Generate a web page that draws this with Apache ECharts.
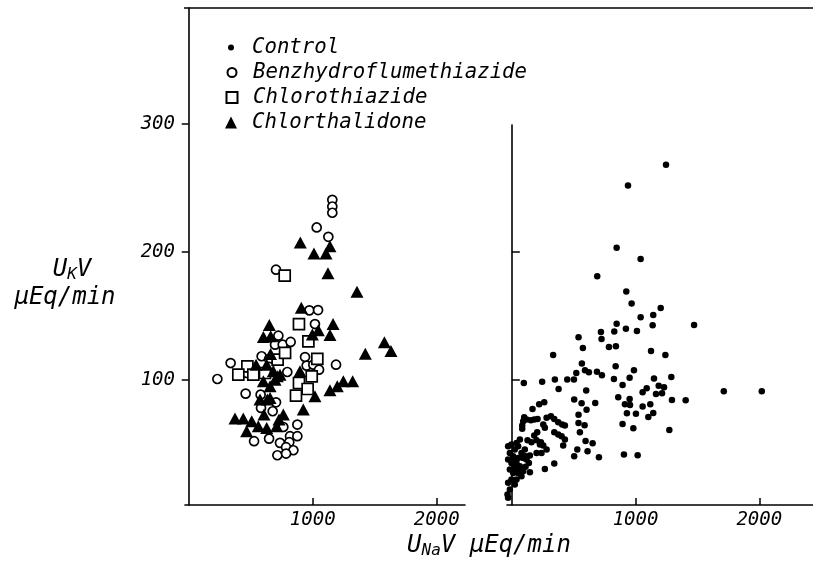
<!DOCTYPE html>
<html>
<head>
<meta charset="utf-8">
<script src="https://cdn.jsdelivr.net/npm/echarts@6/dist/echarts.min.js"></script>
<style>html,body{margin:0;padding:0;background:#fff}#c{width:813px;height:565px}</style>
</head>
<body>
<div id="c"></div>
<script>
// ---- data (UNaV, UKV) in µEq/min ----
const seriesNames = ['Control', 'Benzhydroflumethiazide', 'Chlorothiazide', 'Chlorthalidone'];
const xTicks = [1000, 2000];
const yTicks = [100, 200, 300];

const benzhydroflumethiazide = [[1158,240.6],[1158,235.4],[1158,230.5],[1032,219],[1126,211.7],[704,186],[973,154.2],[1043,154.4],[1018,143.5],
[723,134.4],[696,127.4],[758,127.4],[822,129.5],[588,118.3],[648,116.2],[338,113],[467,105.2],[231,100.5],[795,106],[459,89.1],[580,88.3],[704,82.3],[583,77.9],[677,75.3],[763,63],[876,64.9],[527,51.9],[648,53.9],[736,50.6],[817,55.8],[876,55.8],[811,51.1],[785,47.2],[844,44.8],[715,40.9],[785,42.2],[938,117.7],[951,111],[1005,111.7],[1051,107.8],[1188,111.7],[648,110]];

const chlorothiazide = [[774,181.3],[889,143.5],[965,130],[717,115.7],[777,120.9],[473,110.4],[400,103.9],[521,103.9],[615,105.2],[1037,116.2],[992,102.6],[889,97.4],[959,92.7],[865,87.5]];

const chlorthalidone = [[900,207.3],[1010,198.7],[1107,198.7],[1139,204.4],[1123,183.3],[1357,168.8],[908,156.2],[650,142.7],[1164,143.5],
[602,133.4],[661,133.9],[997,135.4],[1045,138.6],[1139,134.9],[1578,129.2],[1631,122.4],[1424,120.3],[543,111.7],[629,111.7],[682,106.5],[736,103.9],[897,106.5],[602,98.7],[656,94.8],[575,84.4],[656,85.7],[607,72.7],[763,72.7],[1018,87],[924,76.6],[1139,91.7],[1198,94.8],[1247,98.7],[1322,98.7],[373,69.6],[440,69.6],[508,67.5],[467,59.7],[561,63.6],[629,62.3],[709,63.6],[728,68.8],[696,100],[714,102.6],[634,84.4],[660,120]];

const control = [[1246,268],[939,251.8],[847,203.1],[1041,194.3],[690,180.7],[925,168.8],[968,159.4],[1203,156],[1143,150.5],[1041,148.7],
[1138,142.4],[1473,142.7],[847,143.7],[922,139.8],[1011,138],[828,137.7],[720,137.2],[539,133.1],[725,131.7],[574,124.7],[785,125.5],[841,126],[1125,122.4],[1241,119.3],[334,119.3],[566,112.5],[839,110.4],[987,107.3],[521,105.2],[591,107.3],[623,105.7],[688,106.2],[728,103.4],[952,101.5],[825,100.5],[1149,100.8],[1289,102.1],[97,97.4],[245,98.4],[348,100],[448,100],[502,100],[378,92.7],[601,91.4],[895,95.8],[1090,93.2],[1187,95.3],[1057,90.1],[1165,88.8],[1214,89.3],[1230,94],[1713,90.9],[2020,90.9],[504,84.4],[564,81.5],[674,81.8],[860,86.2],[952,84.9],[914,80.7],[955,80.2],[1057,78.9],[1119,80.7],[1294,84.1],[1405,83.9],[604,76.5],[539,72.6],[930,73.7],[1003,73.4],[1103,70.8],[1143,74],[539,66.1],[588,64.3],[895,65.3],[982,62],[1273,60.7],[550,58.8],[596,52.1],[653,50.2],[529,45.3],[612,44],[504,40.1],[704,39.3],[906,41.4],[1017,40.9],
[167,77],[221,80.7],[262,82.3],[100,70.6],[92,67.5],[84,64.1],[84,61.5],[119,68.8],[154,68.2],[181,68.8],[208,69.3],
[281,70.1],[316,71.4],[343,69.3],[375,66.7],[407,64.9],[429,64.1],[254,64.9],[267,62.3],[343,58.9],[375,57.1],[402,55.8],[429,53.1],[415,48.5],[205,58.9],[181,56.3],[200,52.6],[235,51.1],[254,48.5],[227,49.2],[281,45.3],[240,42.7],[200,42.7],[159,51.1],[127,52.6],[267,30.2],[343,34.4],[146,40.6],[119,37.5],[138,34.9],[146,27.6],[111,31.8],
[-30,47.9],[-3,49.2],[38,50.5],[65,53.1],[51,47.9],[24,45.3],[-16,42.7],[11,40.1],[51,38.8],[78,42.7],[92,38.8],[-30,37.5],[-3,34.9],[38,34.9],[65,32.3],[24,31],[-16,29.7],[11,27.1],[51,27.1],[78,24.5],[38,21.9],[-3,21.9],[-30,19.3],[24,18],[-16,14.1],[-35,10.2],[-30,7.6],[105,45.3],[111,40.1],[19,37.5],[51,29.7],[92,28.4]];

// ---- chart ----
const FONT = '"DejaVu Sans Mono", monospace';
const axisLine = {show: true, lineStyle: {color: '#000', width: 1.6}};
const labelStyle = {color: '#000', fontFamily: FONT, fontStyle: 'italic', fontSize: 19, formatter: v => String(v)};

function legendFor(name, size, rowCenter) {
  const left = 231 - size / 2;
  const textPad = 252 - (left + size + 5);
  return {
    data: [name], left: left, top: rowCenter - 10, padding: 0,
    itemWidth: size, itemHeight: size, selectedMode: false,
    textStyle: {color: '#000', fontFamily: FONT, fontStyle: 'italic', fontSize: 20.7, lineHeight: 20,
                padding: [0, 0, 0, textPad]}
  };
}

const chart = echarts.init(document.getElementById('c'), null, {renderer: 'canvas'});
chart.setOption({
  backgroundColor: '#fff',
  animation: false,
  grid: [
    {left: 185, top: 8, width: 280, height: 497},
    {left: 507, top: 125, width: 306, height: 380}
  ],
  xAxis: [
    {gridIndex: 0, type: 'value', min: -30, max: 2228, axisLine,
     splitLine: {show: false},
     axisTick: {show: true, inside: true, length: 7, customValues: xTicks, lineStyle: {color: '#000', width: 1.5}},
     axisLabel: Object.assign({customValues: xTicks, margin: 6}, labelStyle)},
    {gridIndex: 1, type: 'value', min: -39, max: 2434, axisLine,
     splitLine: {show: false},
     axisTick: {show: true, inside: true, length: 7, customValues: xTicks, lineStyle: {color: '#000', width: 1.5}},
     axisLabel: Object.assign({customValues: xTicks, margin: 6}, labelStyle)}
  ],
  yAxis: [
    {gridIndex: 0, type: 'value', min: 2, max: 390.6, axisLine,
     splitLine: {show: false},
     axisTick: {show: true, inside: false, length: 7, customValues: yTicks, lineStyle: {color: '#000', width: 1.5}},
     axisLabel: Object.assign({customValues: yTicks, margin: 10}, labelStyle)},
    {gridIndex: 1, type: 'value', min: 2, max: 299, axisLine,
     splitLine: {show: false},
     axisTick: {show: true, inside: true, length: 8, customValues: yTicks, lineStyle: {color: '#000', width: 1.5}},
     axisLabel: {show: false}}
  ],
  legend: [
    legendFor('Control', 6, 47),
    legendFor('Benzhydroflumethiazide', 9, 72),
    legendFor('Chlorothiazide', 11, 97),
    legendFor('Chlorthalidone', 12, 122)
  ],
  series: [
    {name: 'Control', type: 'scatter', xAxisIndex: 1, yAxisIndex: 1, data: control,
     symbol: 'circle', symbolSize: 6.5, itemStyle: {color: '#000', opacity: 1}},
    {name: 'Benzhydroflumethiazide', type: 'scatter', xAxisIndex: 0, yAxisIndex: 0, data: benzhydroflumethiazide,
     symbol: 'circle', symbolSize: 9, itemStyle: {color: '#fff', borderColor: '#000', borderWidth: 1.7, opacity: 1}},
    {name: 'Chlorothiazide', type: 'scatter', xAxisIndex: 0, yAxisIndex: 0, data: chlorothiazide,
     symbol: 'rect', symbolSize: 11, itemStyle: {color: '#fff', borderColor: '#000', borderWidth: 1.7, opacity: 1}},
    {name: 'Chlorthalidone', type: 'scatter', xAxisIndex: 0, yAxisIndex: 0, data: chlorthalidone,
     symbol: 'triangle', symbolSize: [13, 12], itemStyle: {color: '#000', opacity: 1}}
  ],
  graphic: [
    {type: 'line', shape: {x1: 184, y1: 8, x2: 813, y2: 8}, style: {stroke: '#000', lineWidth: 1.6}},
    {type: 'text', x: 72, y: 270, style: {
      text: '{m|U}{s|K}{m|V}', align: 'center', verticalAlign: 'middle',
      rich: {m: {fontFamily: FONT, fontStyle: 'italic', fontSize: 24, fill: '#000'},
             s: {fontFamily: FONT, fontStyle: 'italic', fontSize: 16, fill: '#000', padding: [10, 0, 0, 0]}}}},
    {type: 'text', x: 65, y: 298, style: {
      text: 'μEq/min', align: 'center', verticalAlign: 'middle',
      fontFamily: FONT, fontStyle: 'italic', fontSize: 24, fill: '#000'}},
    {type: 'text', x: 489, y: 546, style: {
      text: '{m|U}{s|Na}{m|V μEq/min}', align: 'center', verticalAlign: 'middle',
      rich: {m: {fontFamily: FONT, fontStyle: 'italic', fontSize: 24, fill: '#000'},
             s: {fontFamily: FONT, fontStyle: 'italic', fontSize: 16, fill: '#000', padding: [10, 0, 0, 0]}}}}
  ]
});
</script>
</body>
</html>
